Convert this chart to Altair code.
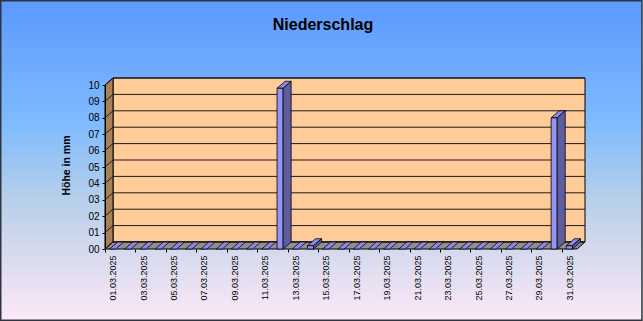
import json
import altair as alt
import pandas as pd

# ---------------- data ----------------
days = list(range(1, 32))
dates = [f"{d:02d}.03.2025" for d in days]
precip = [0.0] * 11 + [9.8, 0.0, 0.2] + [0.0] * 15 + [8.0, 0.2]
y_ticks = list(range(0, 11))
x_label_days = list(range(1, 32, 2))
chart_title = "Niederschlag"
y_title = "Höhe in mm"

# ---------------- geometry helpers ----------------
W, H = 472, 164
XMIN, XMAX = 0.5, 31.5
YMAX = 10
DX = 8 * (XMAX - XMIN) / W      # depth shift in day units (8 px)
DY = 7 * YMAX / H               # depth shift in value units (7 px)
HALF = 0.2                      # half width of bar front face (days)
FONT = "Liberation Sans"
BAND_PX = W / (XMAX - XMIN)

xsc = alt.Scale(domain=[XMIN, XMAX], nice=False, zero=False)
ysc = alt.Scale(domain=[0, YMAX], nice=False, zero=True)

bars = pd.DataFrame({"day": days, "date": dates, "v": precip})
bars["x1"] = bars["day"] - HALF
bars["x2"] = bars["day"] + HALF
bars["zero"] = 0.0
pos = bars[bars["v"] > 0]

side_rows, top_rows = [], []
for d, v in zip(days, precip):
    xl, xr = d - HALF, d + HALF
    if v > 0:
        side_rows += [
            {"day": d, "x": xr, "y": v, "y2": 0.0},
            {"day": d, "x": xr + DX, "y": v + DY, "y2": DY},
        ]
    w = xr - xl
    top_rows += [
        {"day": d, "x": xl, "y": v, "y2": v},
        {"day": d, "x": xr, "y": v + DY * w / DX, "y2": v},
        {"day": d, "x": xl + DX, "y": v + DY, "y2": v + DY * (xl + DX - xr) / DX},
        {"day": d, "x": xr + DX, "y": v + DY, "y2": v + DY},
    ]
side = pd.DataFrame(side_rows)
top = pd.DataFrame(top_rows)

back = pd.DataFrame({"x1": [XMIN + DX], "x2": [XMAX + DX], "y1": [DY], "y2": [YMAX + DY]})
leftwall = pd.DataFrame({"x": [XMIN, XMIN + DX], "y": [YMAX, YMAX + DY], "y2": [0.0, DY]})
floor = pd.DataFrame({
    "x": [XMIN, XMIN + DX, XMAX, XMAX + DX],
    "y": [0.0, DY, DY, DY],
    "y2": [0.0, 0.0, 0.0, DY],
})
grid_back = pd.DataFrame({"x1": XMIN + DX, "x2": XMAX + DX, "y": [v + DY for v in y_ticks]})
grid_left = pd.DataFrame({"x1": XMIN, "x2": XMIN + DX,
                          "y1": [float(v) for v in y_ticks], "y2": [v + DY for v in y_ticks]})

one = pd.DataFrame({"t": [chart_title]})

# ---------------- axes (identical in every layer so they merge) ----------------
x_axis = alt.Axis(
    values=x_label_days,
    labelExpr=f"{json.dumps(dates)}[datum.value - 1]",
    labelAngle=-90, labelAlign="right", labelBaseline="middle",
    labelFont=FONT, labelFontSize=9, labelColor="#000000", labelPadding=3,
    ticks=True, tickSize=3, tickColor="#000000",
    tickOffset=-BAND_PX / 2, labelOffset=BAND_PX / 2,
    domain=False, grid=False, title=None, zindex=2,
)
y_axis = alt.Axis(
    values=y_ticks, format="02d",
    labelFont=FONT, labelFontSize=10, labelColor="#000000", labelPadding=3,
    ticks=True, tickSize=3, tickColor="#000000",
    domain=True, domainColor="#000000", domainWidth=1,
    grid=False,
    title=y_title, titleFont=FONT, titleFontSize=10.5, titleFontWeight="bold",
    titleColor="#000000", titleX=-39, titleY=H / 2 - 2, titleAngle=-90,
    titleAlign="center", titleBaseline="middle", zindex=2,
)


def X(f):
    return alt.X(f, type="quantitative", scale=xsc, axis=x_axis)


def Y(f):
    return alt.Y(f, type="quantitative", scale=ysc, axis=y_axis, stack=None)


# ---------------- layers ----------------
bg = alt.Chart(one).mark_rect(
    fill=alt.Gradient(
        gradient="linear", x1=0, x2=0, y1=0, y2=1,
        stops=[
            alt.GradientStop(offset=0.0, color="#5B99FE"),
            alt.GradientStop(offset=0.38, color="#7FBBFE"),
            alt.GradientStop(offset=0.62, color="#B6CFEA"),
            alt.GradientStop(offset=0.82, color="#DCDCEF"),
            alt.GradientStop(offset=1.0, color="#FDE8F8"),
        ],
    ),
    stroke="#2E3440", strokeWidth=1.5,
).encode(
    x=alt.value(-104.25), x2=alt.value(W + 66 - 1),
    y=alt.value(-84.25), y2=alt.value(H + 72 - 0.75),
)

backwall = alt.Chart(back).mark_rect(fill="#FFCC99", stroke="#000000", strokeWidth=1).encode(
    x=X("x1"), x2="x2:Q", y=Y("y1"), y2="y2:Q",
)
lw = alt.Chart(leftwall).mark_area(fill="#A98158", stroke="#000000", strokeWidth=1, opacity=1).encode(
    x=X("x"), y=Y("y"), y2="y2:Q",
)
fl = alt.Chart(floor).mark_area(fill="#8F8F8F", stroke="#000000", strokeWidth=1, opacity=1).encode(
    x=X("x"), y=Y("y"), y2="y2:Q",
)
gb = alt.Chart(grid_back).mark_rule(color="#1A1A1A", strokeWidth=1).encode(
    x=X("x1"), x2="x2:Q", y=Y("y"),
)
gl = alt.Chart(grid_left).mark_rule(color="#1A1A1A", strokeWidth=1).encode(
    x=X("x1"), x2="x2:Q", y=Y("y1"), y2="y2:Q",
)
front = alt.Chart(pos).mark_rect(fill="#9494F5", stroke="#000000", strokeWidth=0.8).encode(
    x=X("x1"), x2="x2:Q", y=Y("v"), y2="zero:Q",
    tooltip=["date:N", "v:Q"],
)
sidef = alt.Chart(side).mark_area(fill="#5E5E9E", stroke="#000000", strokeWidth=0.8, opacity=1).encode(
    x=X("x"), y=Y("y"), y2="y2:Q", detail="day:N",
)
topf = alt.Chart(top).mark_area(fill="#8A8AEE", stroke="#000000", strokeWidth=0.8, opacity=1).encode(
    x=X("x"), y=Y("y"), y2="y2:Q", detail="day:N",
)

title = alt.Chart(one).mark_text(
    font=FONT, fontSize=16, fontWeight="bold", color="#000000",
    align="center", baseline="alphabetic",
).encode(text="t:N", x=alt.value(323 - 105), y=alt.value(29.5 - 85))

chart = alt.layer(bg, backwall, lw, fl, gb, gl, topf, front, sidef, title).properties(
    width=W, height=H,
    autosize=alt.AutoSizeParams(type="none"),
    padding={"left": 105, "top": 85, "right": 66, "bottom": 72},
    background="#FFFFFF",
).configure_view(strokeWidth=0)

chart.save("out.html", embed_options={"renderer": "svg", "actions": False})
